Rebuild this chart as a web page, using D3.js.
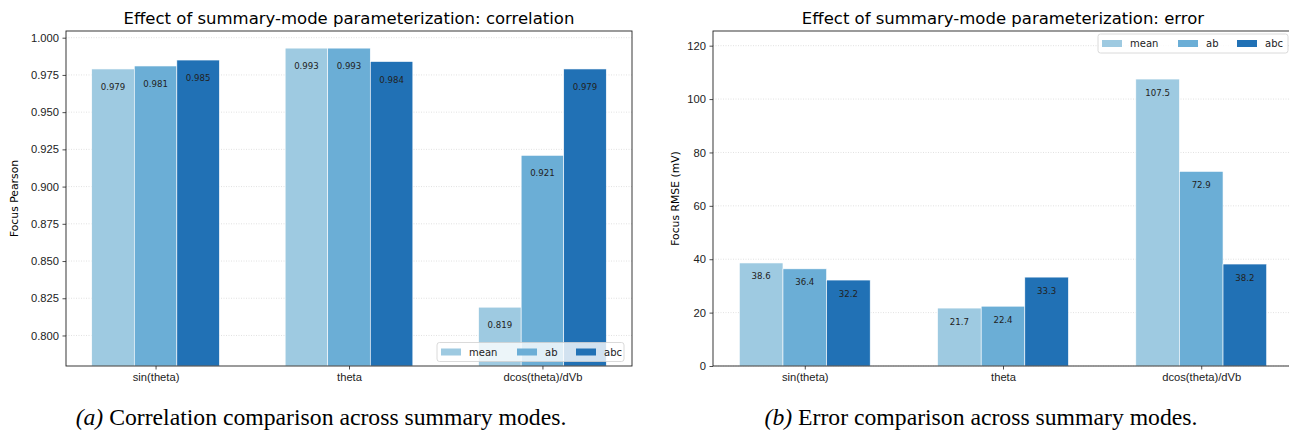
<!DOCTYPE html>
<html>
<meta charset="utf-8">
<head>
<script src="https://d3js.org/d3.v7.min.js"></script>
<title>summary-mode parameterization</title>
<style>
html, body {
	margin: 0;
	padding: 0;
	background: white;
}
svg {
	display: block;
	font-family: 'DejaVu Sans', sans-serif;
}
.grid line {
	stroke: #d9d9d9;
	stroke-width: 0.8;
	stroke-dasharray: 1,1.5;
}
.caption {
	font-family: 'Liberation Serif', 'Times New Roman', serif;
	font-size: 23.7px;
}
</style>
</head>
<body>
<svg width="1289" height="431"></svg>
<script>
var categories = ["sin(theta)", "theta", "dcos(theta)/dVb"];
var modes = ["mean", "ab", "abc"];
var colors = ["#9ecae1", "#6baed6", "#2171b5"];

// correlation (Focus Pearson)
var corrMean = [0.979, 0.993, 0.819];
var corrAb = [0.981, 0.993, 0.921];
var corrAbc = [0.985, 0.984, 0.979];
var corrTicks = [0.800, 0.825, 0.850, 0.875, 0.900, 0.925, 0.950, 0.975, 1.000];

// error (Focus RMSE, mV)
var errMean = [38.6, 21.7, 107.5];
var errAb = [36.4, 22.4, 72.9];
var errAbc = [32.2, 33.3, 38.2];
var errTicks = [0, 20, 40, 60, 80, 100, 120];

var svg = d3.select("svg");
var barW = 0.22;
// legend entry offsets (matplotlib columns follow text width)
var legendCols = [4, 80, 139];

function panel(opt) {
	var g = svg.append("g");
	var x = d3.scaleLinear().domain([-0.463, 2.463]).range([opt.left, opt.right]);
	var y = d3.scaleLinear().domain(opt.ydomain).range([opt.bottom, opt.top]);

	// grid
	g.append("g").attr("class", "grid")
		.selectAll("line").data(opt.ticks).enter().append("line")
		.attr("x1", opt.left).attr("x2", opt.right)
		.attr("y1", function(d) { return y(d); })
		.attr("y2", function(d) { return y(d); });

	// bars
	opt.series.forEach(function(vals, si) {
		var bars = g.append("g");
		bars.selectAll("rect").data(vals).enter().append("rect")
			.attr("x", function(d, i) { return x(i + (si - 1) * barW - barW / 2); })
			.attr("width", x(barW) - x(0))
			.attr("y", function(d) { return y(d); })
			.attr("height", function(d) { return Math.max(0, opt.bottom - y(d)); })
			.style("fill", colors[si])
			.style("stroke", "white")
			.style("stroke-width", 0.6);
		bars.selectAll("text").data(vals).enter().append("text")
			.attr("x", function(d, i) { return x(i + (si - 1) * barW); })
			.attr("y", function(d) { return y(d) + opt.labelOffset; })
			.attr("text-anchor", "middle")
			.attr("dominant-baseline", "middle")
			.style("font-size", "8.6px")
			.style("fill", "#222")
			.text(function(d) { return d3.format(opt.labelFmt)(d); });
	});

	// axes
	var yAxis = d3.axisLeft(y).tickValues(opt.ticks).tickFormat(d3.format(opt.tickFmt)).tickSize(3.5).tickPadding(3.5);
	g.append("g").attr("transform", "translate(" + opt.left + ",0)").call(yAxis);
	var xAxis = d3.axisBottom(x).tickValues([0, 1, 2]).tickFormat(function(d) { return categories[d]; }).tickSize(3.5).tickPadding(3.5);
	g.append("g").attr("transform", "translate(0," + opt.bottom + ")").call(xAxis);
	g.selectAll(".domain").remove();
	g.selectAll(".tick text").style("font-size", "11.2px").style("fill", "#222");
	g.selectAll(".tick line").style("stroke", "#222").style("stroke-width", 0.8);

	// frame
	g.append("rect")
		.attr("x", opt.left).attr("y", opt.top)
		.attr("width", opt.right - opt.left).attr("height", opt.bottom - opt.top)
		.style("fill", "none").style("stroke", "#222").style("stroke-width", 0.9);

	// title and y label
	g.append("text")
		.attr("x", (opt.left + opt.right) / 2).attr("y", 23.5)
		.attr("text-anchor", "middle")
		.style("font-size", "16.5px")
		.text(opt.title);
	g.append("text")
		.attr("transform", "translate(" + opt.ylabelX + "," + ((opt.top + opt.bottom) / 2) + ") rotate(-90)")
		.attr("text-anchor", "middle")
		.attr("dominant-baseline", "middle")
		.style("font-size", "10.8px")
		.text(opt.ylabel);

	// legend
	var lg = g.append("g").attr("transform", "translate(" + opt.legend[0] + "," + opt.legend[1] + ")");
	lg.append("rect")
		.attr("width", opt.legend[2]).attr("height", 19).attr("rx", 2.5)
		.style("fill", "rgba(255,255,255,0.8)")
		.style("stroke", "#d0d0d0").style("stroke-width", 0.8);
	modes.forEach(function(m, i) {
		var ox = legendCols[i];
		lg.append("rect").attr("x", ox).attr("y", 6).attr("width", 20).attr("height", 7)
			.style("fill", colors[i]);
		lg.append("text").attr("x", ox + 28).attr("y", 10)
			.attr("dominant-baseline", "middle")
			.style("font-size", "10px")
			.style("fill", "#222")
			.text(m);
	});

	// caption
	var cap = svg.append("text").attr("class", "caption")
		.attr("x", opt.captionX).attr("y", 425)
		.attr("text-anchor", "middle");
	cap.append("tspan").style("font-style", "italic").text(opt.captionTag);
	cap.append("tspan").text(" " + opt.caption);
}

panel({
	left: 66, right: 632, top: 31, bottom: 366,
	ydomain: [0.7795, 1.0045],
	ticks: corrTicks, tickFmt: ".3f", labelFmt: ".3f", labelOffset: 18.5,
	series: [corrMean, corrAb, corrAbc],
	title: "Effect of summary-mode parameterization: correlation",
	ylabel: "Focus Pearson", ylabelX: 15,
	legend: [437, 342.5, 187],
	captionX: 321, captionTag: "(a)", caption: "Correlation comparison across summary modes."
});

panel({
	left: 713, right: 1293, top: 31, bottom: 366,
	ydomain: [0, 125.5],
	ticks: errTicks, tickFmt: "d", labelFmt: ".1f", labelOffset: 14,
	series: [errMean, errAb, errAbc],
	title: "Effect of summary-mode parameterization: error",
	ylabel: "Focus RMSE (mV)", ylabelX: 676,
	legend: [1098, 34, 190],
	captionX: 981, captionTag: "(b)", caption: "Error comparison across summary modes."
});
</script>
</body>
</html>
